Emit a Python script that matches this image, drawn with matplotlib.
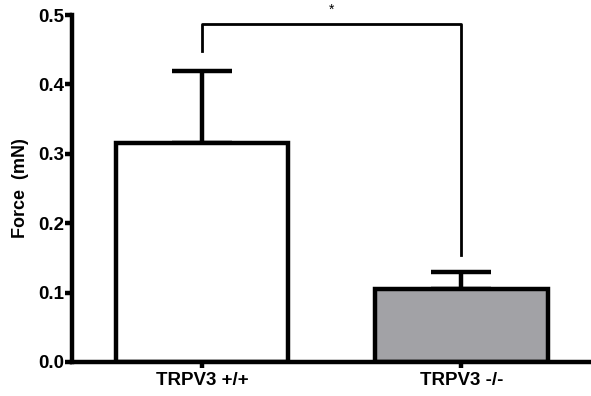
import matplotlib.pyplot as plt

plt.rcParams['font.family'] = ['Liberation Sans', 'DejaVu Sans']

# datos
grupos = ['TRPV3 +/+', 'TRPV3 -/-']
fuerza = [0.315, 0.105]
error = [0.105, 0.025]
colores = ['white', '#a2a2a6']

fig = plt.figure(figsize=(5.91, 3.96), dpi=100)
ax = fig.add_axes([0.122, 0.086, 0.878, 0.876])

x = [0, 1]
ax.bar(x, fuerza, width=0.665, color=colores, edgecolor='black', linewidth=3.2, zorder=2)
ax.errorbar(x, fuerza, yerr=[[0, 0], error], fmt='none', ecolor='black',
            elinewidth=3.2, capsize=21.5, capthick=3.2, zorder=1)

# corchete de significancia
ax.plot([0, 0, 1, 1], [0.448, 0.487, 0.487, 0.154], color='black', linewidth=2, clip_on=False)
ax.text(0.5, 0.497, '*', ha='center', va='bottom', fontsize=10)

ax.set_xlim(-0.5, 1.5)
ax.set_ylim(0, 0.5)
ax.set_yticks([0.0, 0.1, 0.2, 0.3, 0.4, 0.5])
ax.set_yticklabels(['0.0', '0.1', '0.2', '0.3', '0.4', '0.5'])
ax.set_xticks(x)
ax.set_xticklabels(grupos)
ax.set_ylabel('Force  (mN)', fontsize=13, fontweight='bold', labelpad=6)

for lbl in ax.get_xticklabels() + ax.get_yticklabels():
    lbl.set_fontweight('bold')
    lbl.set_fontsize(13.5)

ax.spines['top'].set_visible(False)
ax.spines['right'].set_visible(False)
ax.spines['left'].set_linewidth(3.2)
ax.spines['bottom'].set_linewidth(3.2)
ax.tick_params(axis='y', width=3.2, length=5, pad=1)
ax.tick_params(axis='x', width=3.2, length=4, pad=3)

fig.savefig('out.png', dpi=100)
